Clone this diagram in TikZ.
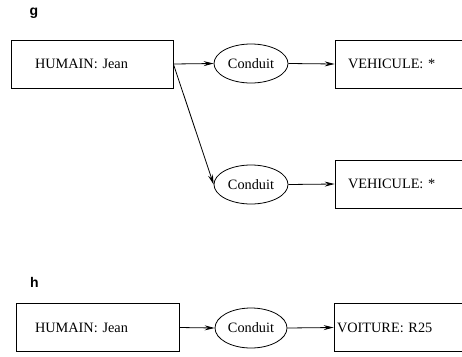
\documentclass[tikz,border=0pt]{standalone}
\usepackage{fontspec}
\setmainfont{Liberation Serif}
\newfontfamily\tagfont{Liberation Sans}
\usetikzlibrary{arrows.meta,shapes.geometric}

\begin{document}
\begin{tikzpicture}[>={Stealth[length=10pt,width=5pt,inset=3.5pt]},x=1pt,y=-1pt,line width=0.8pt,
  font=\fontsize{14.3}{16}\selectfont,
  concept/.style={draw,rectangle,minimum height=48pt,align=left,inner ysep=0pt},
  rel/.style={draw,ellipse,minimum width=74pt,minimum height=39pt,inner sep=0pt},
  tag/.style={anchor=base,font=\tagfont\bfseries\fontsize{14}{16}\selectfont}]
\path[use as bounding box,clip] (0,0) rectangle (462,356);
% g
\node[tag] (g) at (34,16) {g};
\node[concept,text width=114pt,inner xsep=24pt] (hg) at (92,64) {HUMAIN: Jean};
\node[rel] (c1) at (251,63.5) {Conduit};
\node[concept,text width=134pt,inner xsep=13pt] (v1) at (415,64) {VEHICULE: *};
\node[rel] (c2) at (251,184.5) {Conduit};
\node[concept,text width=134pt,inner xsep=13pt] (v2) at (415,184) {VEHICULE: *};
\draw[->] (hg.east) -- (c1.west);
\draw[->] (c1.east) -- (v1.west);
\draw[->] (hg.east) -- (c2.west);
\draw[->] (c2.east) -- (v2.west);
% h
\node[tag] (h) at (34.5,287) {h};
\node[concept,text width=125pt,inner xsep=19pt] (hh) at (97.5,327.5) {HUMAIN: Jean};
\node[rel,minimum width=72pt,minimum height=40pt] (c3) at (251,328) {Conduit};
\node[concept,text width=154pt,inner xsep=3pt] (vh) at (414,327.5) {VOITURE: R25};
\draw[->] (hh.east) -- (c3.west);
\draw[->] (c3.east) -- (vh.west);
\end{tikzpicture}
\end{document}
